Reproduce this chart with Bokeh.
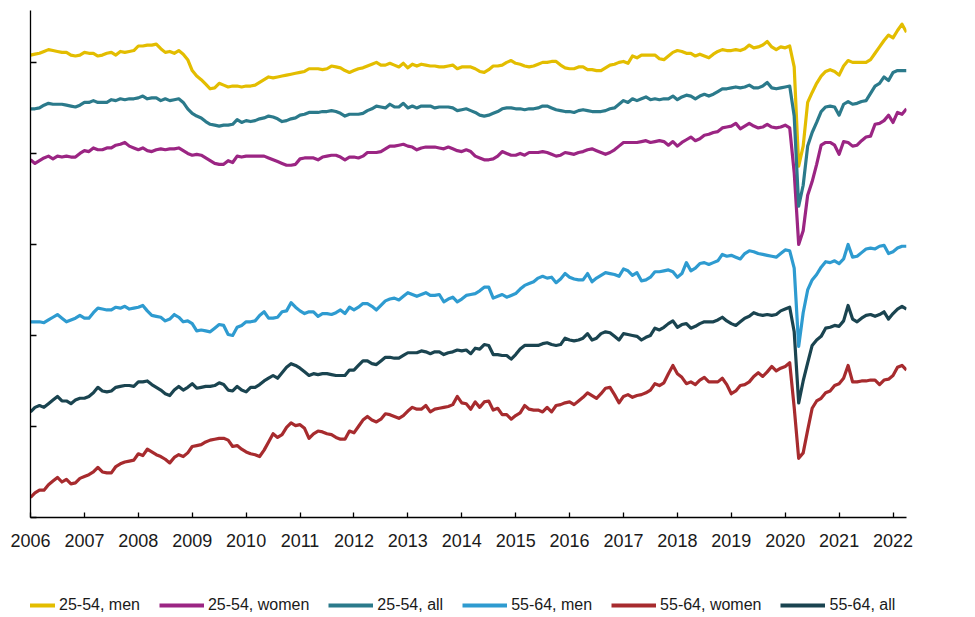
import numpy as np
from bokeh.plotting import figure
from bokeh.layouts import column
from bokeh.models import Range1d, FixedTicker, Legend, LegendItem
from bokeh.embed import file_html
from bokeh.resources import INLINE

# ---------------- data (monthly, Jan 2006 - Apr 2022) ----------------
START_YEAR = 2006
YEARS = list(range(2006, 2023))
TICK_LABELS = [str(y) for y in YEARS]
Y_TICKS = [30, 40, 50, 60, 70, 80]

SERIES_NAMES = ["25-54, men", "25-54, women", "25-54, all",
                "55-64, men", "55-64, women", "55-64, all"]
COLORS = ["#E3BD00", "#9B2583", "#2B7A8B", "#2E9BD0", "#A72B2E", "#1A4450"]

men_25_54 = [
    80.8, 80.9, 81.0, 81.2, 81.4, 81.3, 81.2, 81.1, 81.1, 80.8, 80.7, 80.8,
    81.1, 81.0, 81.0, 80.7, 80.8, 81.0, 81.1, 80.8, 81.2, 81.1, 81.2, 81.3,
    81.8, 81.8, 81.9, 81.9, 82.0, 81.5, 81.1, 81.2, 81.0, 81.3, 80.9, 80.3,
    79.1, 78.5, 78.1, 77.6, 77.1, 77.2, 77.7, 77.5, 77.3, 77.4, 77.4, 77.3,
    77.4, 77.4, 77.5, 77.8, 78.1, 78.4, 78.3, 78.4, 78.5, 78.6, 78.7, 78.8,
    78.9, 79.0, 79.3, 79.3, 79.3, 79.2, 79.3, 79.6, 79.5, 79.4, 79.1, 78.9,
    79.1, 79.3, 79.4, 79.6, 79.8, 80.0, 79.7, 79.7, 79.9, 79.7, 79.5, 79.9,
    79.4, 79.8, 79.6, 79.8, 79.7, 79.6, 79.6, 79.5, 79.5, 79.6, 79.7, 79.3,
    79.5, 79.5, 79.5, 79.3, 79.0, 78.9, 79.2, 79.6, 79.6, 79.7, 80.0, 80.2,
    79.9, 79.8, 79.6, 79.5, 79.6, 79.8, 80.0, 80.0, 80.1, 80.1, 79.7, 79.4,
    79.3, 79.3, 79.5, 79.5, 79.2, 79.2, 79.1, 79.1, 79.4, 79.7, 79.8, 80.0,
    80.1, 79.9, 80.7, 80.5, 80.8, 80.8, 80.8, 80.8, 80.4, 80.3, 80.7, 81.1,
    81.3, 81.2, 81.0, 81.0, 80.7, 80.9, 80.7, 80.5, 80.9, 81.2, 81.4, 81.3,
    81.3, 81.4, 81.3, 81.5, 81.9, 81.6, 81.7, 81.9, 82.3, 81.7, 81.4, 81.7,
    81.6, 81.8, 79.5, 68.6, 70.8, 75.6, 76.7, 77.7, 78.5, 79.0, 79.2, 79.0,
    78.6, 79.6, 80.2, 80.0, 80.0, 80.0, 80.0, 80.3, 81.0, 81.7, 82.4, 83.0,
    82.7, 83.5, 84.2, 83.3,
]

women_25_54 = [
    69.3, 68.9, 69.2, 69.5, 69.7, 69.4, 69.7, 69.6, 69.7, 69.6, 69.6, 70.0,
    70.3, 70.2, 70.6, 70.4, 70.4, 70.6, 70.6, 70.9, 71.0, 71.2, 70.8, 70.6,
    70.4, 70.6, 70.3, 70.2, 70.4, 70.5, 70.4, 70.5, 70.5, 70.6, 70.3, 70.0,
    69.8, 69.9, 69.8, 69.5, 69.2, 68.9, 68.8, 68.8, 69.2, 69.0, 69.7, 69.6,
    69.7, 69.7, 69.7, 69.7, 69.7, 69.5, 69.3, 69.1, 68.9, 68.7, 68.7, 68.8,
    69.4, 69.5, 69.5, 69.5, 69.3, 69.6, 69.7, 69.8, 69.8, 69.6, 69.3, 69.6,
    69.6, 69.5, 69.7, 70.1, 70.1, 70.1, 70.2, 70.5, 70.8, 70.8, 70.9, 71.0,
    70.8, 70.7, 70.4, 70.6, 70.7, 70.7, 70.7, 70.6, 70.5, 70.7, 70.5, 70.3,
    70.2, 70.4, 70.2, 69.7, 69.5, 69.3, 69.3, 69.4, 69.7, 70.2, 70.0, 69.8,
    69.8, 70.0, 69.8, 70.1, 70.1, 70.1, 70.2, 70.1, 69.9, 69.7, 69.8, 70.1,
    70.0, 69.9, 70.1, 70.2, 70.4, 70.5, 70.3, 70.1, 69.9, 70.1, 70.4, 70.8,
    71.2, 71.2, 71.2, 71.2, 71.3, 71.4, 71.2, 71.3, 71.4, 71.3, 70.9, 71.3,
    70.8, 71.2, 71.5, 71.8, 71.4, 71.6, 72.0, 72.1, 72.3, 72.4, 72.8, 72.9,
    73.0, 73.3, 72.7, 73.0, 73.3, 73.0, 72.8, 72.9, 73.2, 72.9, 72.8, 72.9,
    73.1, 72.8, 67.9, 60.0, 61.5, 65.4, 66.9, 68.8, 70.9, 71.2, 71.2, 70.9,
    69.9, 71.3, 71.2, 70.8, 70.9, 71.4, 71.8, 71.9, 73.2, 73.3, 73.6, 74.2,
    73.4, 74.5, 74.3, 74.9,
]

all_25_54 = [
    74.9, 74.9, 75.0, 75.3, 75.5, 75.4, 75.4, 75.4, 75.3, 75.2, 75.1, 75.3,
    75.6, 75.6, 75.8, 75.6, 75.6, 75.6, 75.9, 75.8, 76.0, 75.9, 76.0, 76.0,
    76.1, 76.3, 76.0, 76.1, 76.1, 75.8, 76.0, 75.8, 75.9, 76.0, 75.6, 74.9,
    74.4, 74.1, 73.9, 73.5, 73.2, 73.1, 73.0, 73.1, 73.1, 73.2, 73.7, 73.4,
    73.6, 73.5, 73.6, 73.8, 73.9, 74.1, 74.0, 73.8, 73.5, 73.6, 73.8, 73.9,
    74.2, 74.3, 74.5, 74.5, 74.5, 74.6, 74.6, 74.7, 74.6, 74.4, 74.1, 74.3,
    74.3, 74.3, 74.4, 74.7, 74.9, 75.2, 75.1, 75.0, 75.4, 75.1, 75.1, 75.5,
    75.0, 75.2, 75.0, 75.2, 75.2, 75.2, 75.0, 75.1, 75.1, 75.1, 75.0, 74.7,
    74.8, 74.9, 74.7, 74.5, 74.2, 74.1, 74.2, 74.4, 74.6, 74.9, 75.0, 75.0,
    74.9, 74.9, 74.8, 74.9, 74.9, 75.0, 75.2, 75.2, 75.0, 74.8, 74.7, 74.6,
    74.6, 74.5, 74.7, 74.8, 74.7, 74.6, 74.6, 74.6, 74.7, 74.9, 75.0, 75.4,
    75.8, 75.6, 76.0, 75.8, 76.0, 76.2, 75.9, 76.0, 75.9, 76.0, 76.0, 76.3,
    75.9, 76.2, 76.4, 76.3, 76.0, 76.3, 76.5, 76.3, 76.5, 76.8, 77.1, 77.1,
    77.2, 77.3, 77.2, 77.3, 77.5, 77.2, 77.2, 77.4, 77.8, 77.2, 77.1, 77.2,
    77.3, 77.4, 74.1, 64.2, 66.5, 70.8, 72.3, 73.4, 74.6, 75.1, 75.2, 75.1,
    74.2, 75.4, 75.7, 75.4, 75.5, 75.7, 75.8, 76.6, 77.4, 77.7, 78.4, 78.0,
    78.9, 79.1, 79.1, 79.1,
]

men_55_64 = [
    51.5, 51.5, 51.5, 51.4, 51.7, 52.0, 52.3, 51.9, 51.5, 51.7, 51.9, 52.2,
    51.9, 51.9, 52.5, 53.0, 52.9, 52.8, 52.8, 53.1, 53.0, 53.2, 52.9, 53.0,
    53.1, 53.3, 52.7, 52.2, 52.1, 52.0, 51.6, 51.8, 52.3, 52.0, 51.5, 51.6,
    51.3, 50.5, 50.6, 50.5, 50.4, 50.8, 51.2, 51.1, 50.1, 50.0, 50.9, 51.1,
    51.5, 51.5, 51.6, 52.2, 52.6, 51.9, 51.9, 52.0, 52.6, 52.7, 53.6, 53.1,
    52.7, 52.4, 52.6, 52.6, 52.1, 52.4, 52.4, 52.3, 52.5, 52.8, 52.4, 53.1,
    52.8, 53.1, 53.5, 53.5, 53.2, 52.8, 53.3, 53.8, 54.0, 54.1, 53.9, 54.3,
    54.7, 54.5, 54.3, 54.5, 54.7, 54.4, 54.4, 54.5, 53.7, 54.0, 54.2, 53.7,
    54.0, 54.4, 54.5, 54.6, 54.9, 55.3, 55.3, 54.1, 54.3, 54.5, 54.2, 54.4,
    54.6, 55.1, 55.5, 55.7, 55.9, 56.3, 56.5, 56.3, 56.4, 55.8, 56.2, 56.8,
    56.4, 56.2, 56.1, 56.1, 56.8, 55.9, 56.3, 56.6, 56.9, 56.8, 56.7, 56.5,
    57.3, 57.1, 56.6, 56.9, 56.0, 56.1, 56.4, 57.0, 57.0, 57.1, 57.2, 57.0,
    56.4, 56.8, 58.0, 57.1, 57.4, 57.9, 58.0, 57.8, 58.0, 58.2, 58.9, 58.7,
    58.8, 58.6, 58.4, 59.0, 59.3, 59.2, 59.0, 58.9, 58.8, 58.7, 58.6, 59.0,
    59.4, 59.3, 57.4, 48.8, 52.5, 55.0, 56.1, 56.7, 57.5, 58.1, 58.0, 58.2,
    57.9, 58.4, 60.0, 58.6, 58.7, 59.1, 59.5, 59.6, 59.5, 59.8, 59.9, 59.0,
    59.2, 59.6, 59.8, 59.8,
]

women_55_64 = [
    32.2, 32.7, 33.0, 33.0, 33.6, 34.0, 34.4, 33.9, 34.2, 33.7, 33.8, 34.3,
    34.5, 34.7, 35.0, 35.5, 35.0, 34.9, 34.9, 35.6, 35.9, 36.1, 36.2, 36.3,
    37.0, 36.8, 37.5, 37.2, 36.9, 36.7, 36.4, 36.0, 36.6, 36.9, 36.7, 37.1,
    37.8, 37.9, 38.0, 38.3, 38.5, 38.6, 38.7, 38.7, 38.5, 37.8, 37.9, 37.5,
    37.2, 37.0, 36.9, 36.7, 37.4, 38.3, 39.2, 38.8, 39.1, 39.9, 40.4, 40.1,
    40.2, 39.8, 38.7, 39.2, 39.5, 39.4, 39.2, 39.1, 38.8, 38.6, 38.6, 39.5,
    39.3, 40.0, 40.7, 41.1, 40.7, 40.5, 40.8, 41.4, 41.3, 41.1, 40.9, 41.2,
    41.7, 42.1, 41.9, 41.9, 42.3, 41.6, 41.9, 42.0, 42.1, 42.2, 42.4, 43.3,
    42.6, 42.5, 41.9, 42.7, 42.1, 42.7, 42.8, 41.8, 42.0, 41.3, 41.3, 40.8,
    41.2, 41.5, 42.3, 41.9, 41.8, 41.8, 41.6, 42.1, 41.6, 42.3, 42.4, 42.6,
    42.7, 42.4, 42.8, 43.2, 43.7, 43.4, 43.1, 43.6, 44.2, 44.3, 43.5, 42.6,
    43.3, 43.5, 43.2, 43.4, 43.5, 43.7, 44.0, 44.7, 44.5, 44.8, 45.8, 46.7,
    45.8, 45.4, 44.7, 44.9, 44.6, 45.1, 45.4, 44.9, 44.9, 44.9, 45.3, 44.6,
    43.6, 43.9, 44.5, 44.6, 44.9, 45.5, 45.9, 45.5, 46.0, 46.6, 46.1, 46.4,
    46.6, 47.0, 42.1, 36.5, 37.1, 39.6, 42.0, 42.8, 43.1, 43.7, 43.9, 44.5,
    44.7, 45.3, 46.7, 44.9, 44.9, 45.0, 45.0, 45.1, 45.1, 44.6, 45.1, 45.2,
    45.6, 46.5, 46.7, 46.2,
]

all_55_64 = [
    41.6, 42.1, 42.3, 42.1, 42.5, 42.9, 43.3, 42.8, 42.8, 42.5, 42.9, 43.1,
    43.1, 43.3, 43.7, 44.3, 43.9, 43.8, 43.9, 44.3, 44.4, 44.5, 44.5, 44.4,
    44.9, 44.9, 45.0, 44.6, 44.3, 44.0, 43.6, 43.4, 44.0, 44.4, 44.0, 44.3,
    44.7, 44.2, 44.3, 44.4, 44.4, 44.5, 44.8, 44.6, 44.0, 43.9, 44.4, 44.0,
    43.8, 44.3, 44.3, 44.6, 45.0, 45.3, 45.6, 45.3, 45.9, 46.5, 46.9, 46.7,
    46.4, 46.0, 45.6, 45.8, 45.7, 45.8, 45.8, 45.7, 45.6, 45.6, 45.6, 46.2,
    46.2, 46.7, 47.2, 47.2, 46.9, 46.8, 47.2, 47.6, 47.6, 47.5, 47.5, 47.8,
    48.1, 48.1, 48.1, 48.3, 48.2, 48.0, 48.2, 48.2, 47.9, 48.1, 48.2, 48.4,
    48.3, 48.4, 48.0, 48.6, 48.5, 49.0, 48.9, 47.9, 47.9, 47.8, 47.8, 47.4,
    47.9, 48.5, 48.9, 48.9, 48.9, 48.9, 49.1, 49.2, 49.0, 48.9, 49.0, 49.7,
    49.5, 49.4, 49.5, 49.7, 50.2, 49.5, 49.7, 50.2, 50.4, 50.3, 49.9, 49.5,
    50.2, 50.1, 50.0, 49.9, 49.5, 49.8, 50.0, 50.8, 50.6, 50.9, 51.3, 51.6,
    50.9, 51.2, 51.3, 50.8, 51.0, 51.3, 51.5, 51.5, 51.5, 51.7, 52.0, 51.6,
    51.3, 51.1, 51.5, 51.9, 52.1, 52.5, 52.3, 52.2, 52.3, 52.2, 52.3, 52.7,
    52.9, 53.1, 50.4, 42.6, 45.0, 47.0, 48.9, 49.5, 49.9, 50.8, 50.9, 51.1,
    51.0, 51.6, 53.3, 51.8, 51.5, 51.9, 52.2, 52.3, 52.1, 52.3, 52.6, 51.8,
    52.4, 52.9, 53.2, 52.9,
]

SERIES = [men_25_54, women_25_54, all_25_54, men_55_64, women_55_64, all_55_64]

# ---------------- main chart ----------------
n = len(men_25_54)
x = START_YEAR + np.arange(n) / 12.0

BORDER_L, BORDER_R = 30, 69
MAIN_H = 572
p = figure(width=975, height=MAIN_H, output_backend="svg", toolbar_location=None,
           x_range=Range1d(2006, 2022.25), y_range=Range1d(30, 85.7),
           min_border_left=BORDER_L, min_border_right=BORDER_R, min_border_top=10,
           min_border_bottom=MAIN_H - 517)
p.outline_line_color = None
p.grid.visible = False

for name, color, vals in zip(SERIES_NAMES, COLORS, SERIES):
    p.line(x, vals, line_color=color, line_width=3.2, line_join="round")

xa = p.xaxis[0]
xa.ticker = FixedTicker(ticks=YEARS)
xa.major_label_overrides = {y: lbl for y, lbl in zip(YEARS, TICK_LABELS)}
xa.minor_tick_line_color = None
xa.major_tick_in = 5
xa.major_tick_out = 0
xa.major_tick_line_color = "black"
xa.major_tick_line_width = 1.3
xa.axis_line_color = "black"
xa.axis_line_width = 1.3
xa.major_label_standoff = 16
xa.major_label_text_font = "Liberation Sans"
xa.major_label_text_font_size = "18px"
xa.major_label_text_color = "#1a1a1a"

ya = p.yaxis[0]
ya.ticker = FixedTicker(ticks=Y_TICKS)
ya.major_label_overrides = {t: "" for t in Y_TICKS}
ya.minor_tick_line_color = None
ya.major_tick_in = 6
ya.major_tick_out = 0
ya.major_tick_line_color = "black"
ya.major_tick_line_width = 1.3
ya.axis_line_color = "black"
ya.axis_line_width = 1.3
ya.major_label_standoff = 0

# ---------------- legend strip (same series, hidden; only the key is drawn) ----------------
LEG_H = 617 - MAIN_H
q = figure(width=975, height=LEG_H, output_backend="svg", toolbar_location=None,
           x_range=Range1d(0, 1), y_range=Range1d(0, 1),
           x_axis_type=None, y_axis_type=None,
           min_border_left=BORDER_L, min_border_right=BORDER_R,
           min_border_top=0, min_border_bottom=0)
q.outline_line_color = None
q.grid.visible = False
items = []
for name, color, vals in zip(SERIES_NAMES, COLORS, SERIES):
    r = q.line(x, vals, line_color=color, line_width=4, visible=False)
    items.append(LegendItem(label=name, renderers=[r]))

# compact enough that the whole key ends before the plot frame's right edge
legend = Legend(items=items, orientation="horizontal", location=(-20, 3),
                glyph_width=45, glyph_height=16, label_height=16,
                label_standoff=4, spacing=19, padding=0, margin=0,
                border_line_color=None, background_fill_alpha=0,
                label_text_font="Liberation Sans", label_text_font_size="16px",
                label_text_color="#1a1a1a")
q.add_layout(legend)

layout = column(p, q, spacing=0)
open("out.html", "w").write(file_html(layout, INLINE))
